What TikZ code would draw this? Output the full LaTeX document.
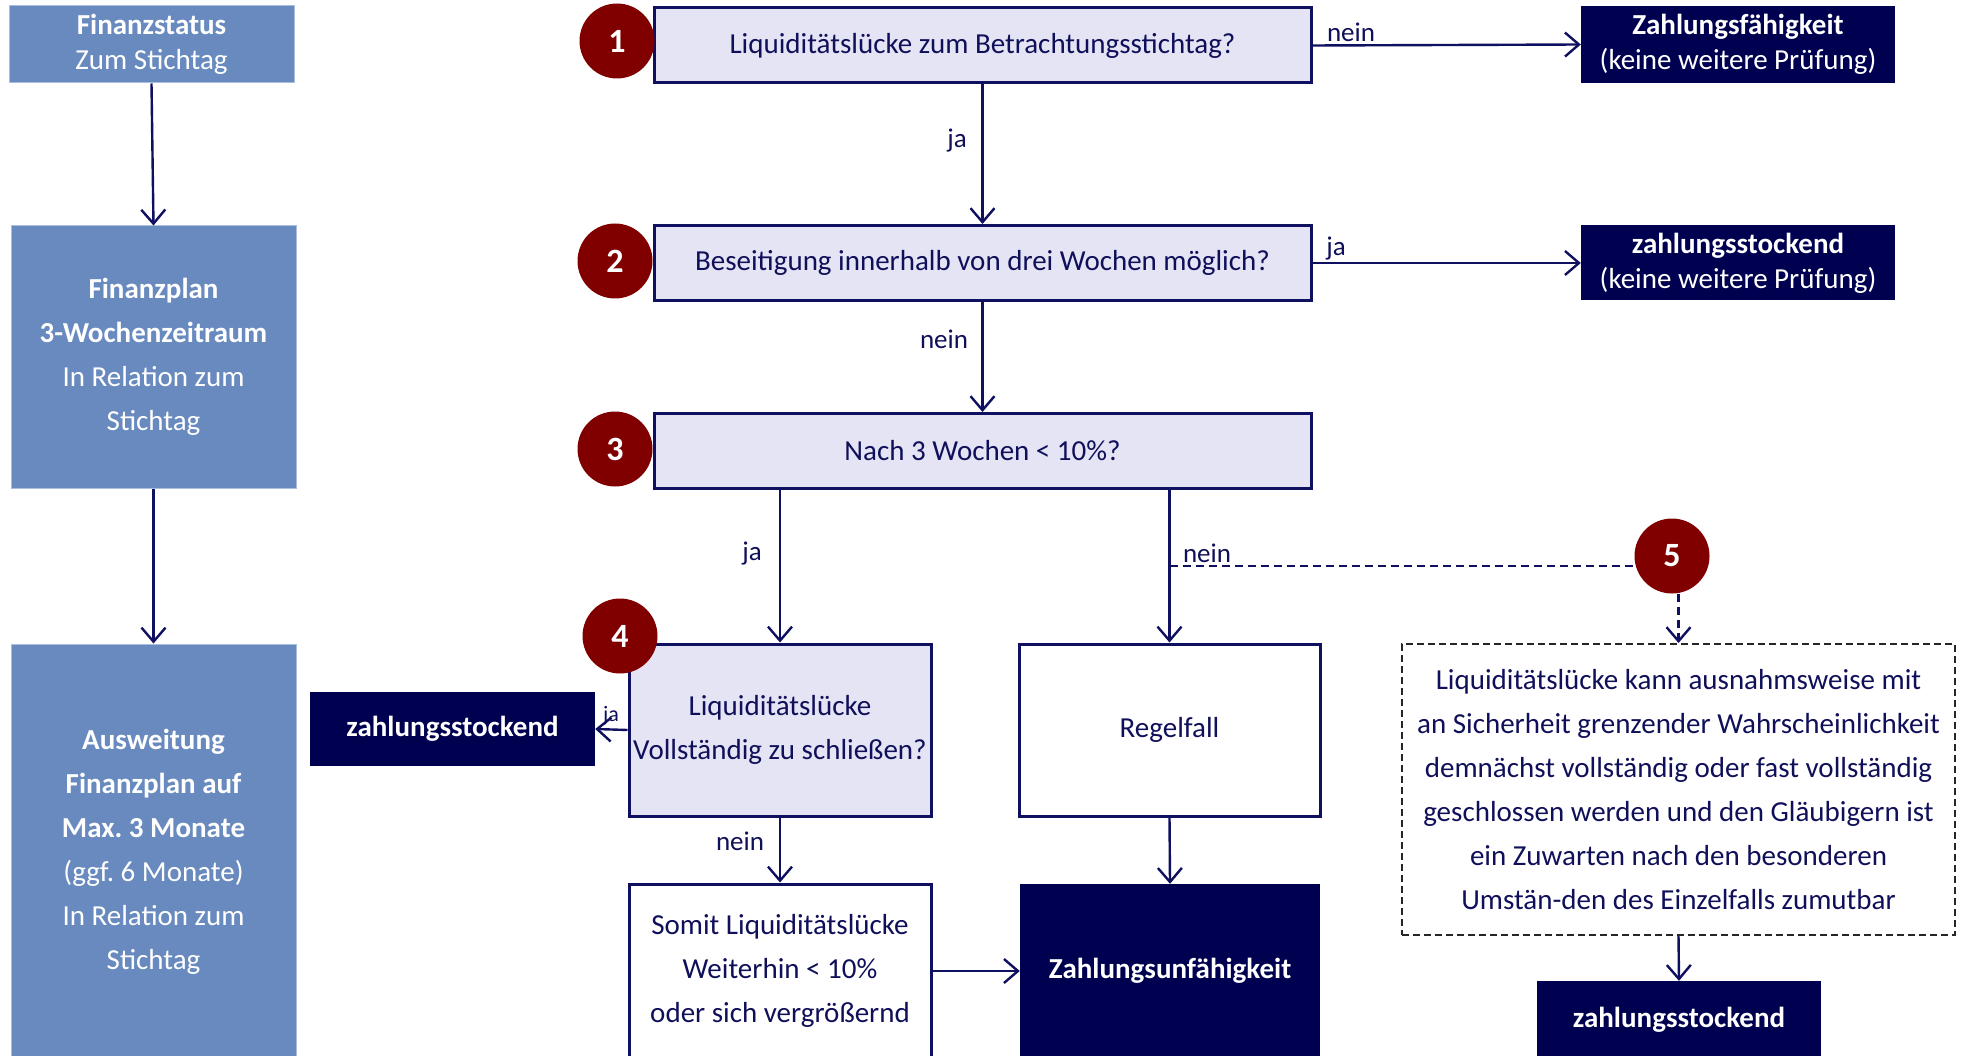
\documentclass[tikz,border=0pt]{standalone}
\usepackage{fontspec}
\setmainfont{Carlito}
\usetikzlibrary{arrows.meta}
\frenchspacing
\definecolor{navyfill}{RGB}{0,0,80}
\definecolor{navyline}{RGB}{16,16,96}
\definecolor{navytext}{RGB}{16,16,90}
\definecolor{lav}{RGB}{228,228,245}
\definecolor{steel}{RGB}{104,138,191}
\definecolor{steelline}{RGB}{170,190,225}
\definecolor{dred}{RGB}{128,0,0}
\tikzset{
  arr/.style={draw=navyline, line width=2.4pt, -{Straight Barb[length=14pt,width=24pt,line width=2.4pt]}},
  dline/.style={draw=navyline, line width=2.4pt, dash pattern=on 8pt off 5pt},
  qbox/.style={draw=navyline, line width=3pt, fill=lav, text=navytext, inner sep=0pt, align=center, font=\fontsize{29}{44}\selectfont},
  wbox/.style={draw=navyline, line width=3pt, fill=white, text=navytext, inner sep=0pt, align=center, font=\fontsize{29}{44}\selectfont},
  nbox/.style={fill=navyfill, text=white, inner sep=0pt, align=center, font=\fontsize{29}{35}\selectfont},
  sbox/.style={draw=steelline, line width=1pt, fill=steel, text=white, inner sep=0pt, align=center, font=\fontsize{29}{44}\selectfont},
  circ/.style={circle, fill=dred, text=white, minimum size=75pt, inner sep=0pt, font=\fontsize{34}{34}\selectfont\bfseries},
  lbl/.style={text=navytext, inner sep=0pt, font=\fontsize{27}{27}\selectfont},
}
\begin{document}
\begin{tikzpicture}[x=1pt,y=-1pt]
\clip (0,0) rectangle (1961,1056);
\fill[white] (0,0) rectangle (1961,1056);
% left column
\node[sbox, minimum width=285pt, minimum height=77pt, font=\fontsize{29}{35}\selectfont] (fs) at (151.5,44.5) {\textbf{Finanzstatus}\\Zum Stichtag};
\node[sbox, minimum width=285pt, minimum height=262pt] (fp) at (153.5,357) {\textbf{Finanzplan}\\\textbf{3-Wochenzeitraum}\\In Relation zum\\Stichtag};
\node[sbox, minimum width=285pt, minimum height=416pt] (aw) at (153.5,852) {\textbf{Ausweitung}\\\textbf{Finanzplan auf}\\\textbf{Max. 3 Monate}\\(ggf. 6 Monate)\\In Relation zum\\Stichtag};
\draw[arr] (fs.south) -- (fp.north);
\draw[arr] (fp.south) -- (aw.north);
% main column
\node[qbox, minimum width=657pt, minimum height=75pt] (b1) at (982.5,45.5) {Liquiditätslücke zum Betrachtungsstichtag?};
\node[qbox, minimum width=657pt, minimum height=75pt] (b2) at (982.5,263) {Beseitigung innerhalb von drei Wochen möglich?};
\node[qbox, minimum width=657pt, minimum height=75pt] (b3) at (982.5,451) {Nach 3 Wochen < 10\%?};
\node[nbox, minimum width=314pt, minimum height=77pt] (zf) at (1738,44.5) {\textbf{Zahlungsfähigkeit}\\(keine weitere Prüfung)};
\node[nbox, minimum width=314pt, minimum height=75pt] (zs1) at (1738,263) {\textbf{zahlungsstockend}\\(keine weitere Prüfung)};
\node[qbox, minimum width=302pt, minimum height=172pt] (b4) at (780,730) {Liquiditätslücke\\Vollständig zu schließen?};
\node[nbox, minimum width=285pt, minimum height=74pt] (zs2) at (452.5,729) {\textbf{zahlungsstockend}};
\node[wbox, minimum width=301pt, minimum height=172pt] (rf) at (1169.5,730) {Regelfall};
\node[wbox, minimum width=302pt, minimum height=174pt] (sm) at (780,971) {Somit Liquiditätslücke\\Weiterhin < 10\%\\oder sich vergrößernd};
\node[nbox, minimum width=300pt, minimum height=174pt] (zu) at (1170,971) {\textbf{Zahlungsunfähigkeit}};
\node[draw=black!85, line width=2pt, dash pattern=on 7pt off 4pt, fill=white, text=navytext, inner sep=0pt, align=center, font=\fontsize{29}{44}\selectfont, minimum width=553pt, minimum height=291pt] (db) at (1678.5,789.5) {Liquiditätslücke kann ausnahmsweise mit\\an Sicherheit grenzender Wahrscheinlichkeit\\demnächst vollständig oder fast vollständig\\geschlossen werden und den Gläubigern ist\\ein Zuwarten nach den besonderen\\Umstän-den des Einzelfalls zumutbar};
\node[nbox, minimum width=284pt, minimum height=77pt] (zs3) at (1679,1019.5) {\textbf{zahlungsstockend}};
% circles
\node[circ] (c1) at (617,41) {1};
\node[circ] (c2) at (615,261) {2};
\node[circ] (c3) at (615,449) {3};
\node[circ] (c4) at (620,636) {4};
\node[circ] (c5) at (1672,556) {5};
% connectors
\draw[arr] (b1.east) -- (zf.west);
\draw[arr] (b1.south) -- (b2.north);
\draw[arr] (b2.east) -- (zs1.west);
\draw[arr] (b2.south) -- (b3.north);
\draw[arr] (b4.north |- b3.south) -- (b4.north);
\draw[arr] (rf.north |- b3.south) -- (rf.north);
\draw[arr] (b4.west) -- (zs2.east);
\draw[arr] (b4.south) -- (sm.north);
\draw[arr] (rf.south) -- (zu.north);
\draw[arr] (sm.east) -- (zu.west);
\coordinate (dy) at (0,566);
\coordinate (d0) at (rf.north |- dy);
\draw[dline] (d0) -- (d0 -| c5.196);
\draw[dline, -{Straight Barb[length=14pt,width=24pt,line width=2.4pt]}] (c5.south -| db.north) -- (db.north);
\draw[arr] (db.south) -- (zs3.north);
% labels
\node[lbl] (l1) at (1351,32) {nein};
\node[lbl] (l2) at (957,141) {ja};
\node[lbl] (l3) at (1336,249) {ja};
\node[lbl] (l4) at (944,339) {nein};
\node[lbl] (l5) at (752,554) {ja};
\node[lbl] (l6) at (1207,553) {nein};
\node[lbl, font=\fontsize{22}{22}\selectfont] (l7) at (611,716) {ja};
\node[lbl] (l8) at (740,841) {nein};
\end{tikzpicture}
\end{document}
